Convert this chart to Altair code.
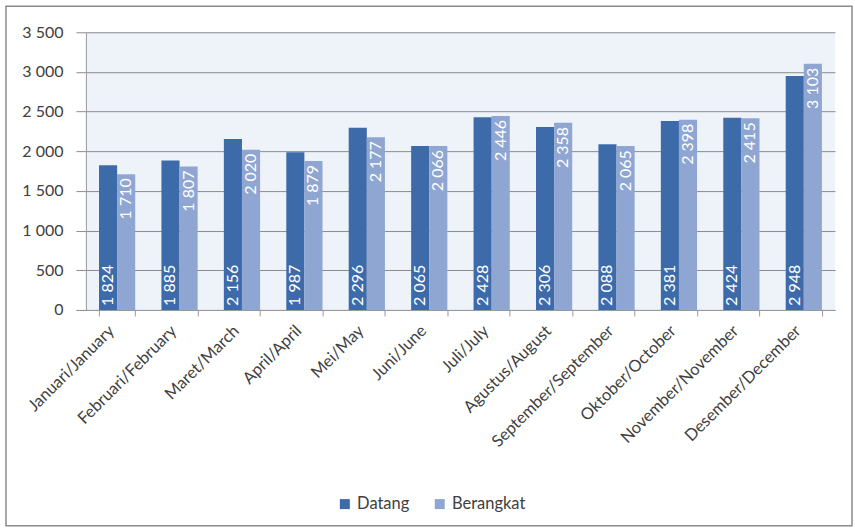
import altair as alt
import pandas as pd

months = ["Januari/January", "Februari/February", "Maret/March", "April/April", "Mei/May",
          "Juni/June", "Juli/July", "Agustus/August", "September/September",
          "Oktober/October", "November/November", "Desember/December"]
datang = [1824, 1885, 2156, 1987, 2296, 2065, 2428, 2306, 2088, 2381, 2424, 2948]
berangkat = [1710, 1807, 2020, 1879, 2177, 2066, 2446, 2358, 2065, 2398, 2415, 3103]
series = ["Datang", "Berangkat"]
colors = ["#3D6BAA", "#8FA6D2"]

rows = []
for m, d, b in zip(months, datang, berangkat):
    rows.append({"month": m, "series": "Datang", "value": d})
    rows.append({"month": m, "series": "Berangkat", "value": b})
df = pd.DataFrame(rows)
df["label"] = df["value"].map(lambda v: f"{v:,}".replace(",", " "))
df["zero"] = 0

FONT = "Lato"

base = alt.Chart(df)
x = alt.X("month:N", sort=months, title=None,
          scale=alt.Scale(paddingInner=0.42, paddingOuter=0.21),
          axis=alt.Axis(labelAngle=-45, labelAlign="right", labelBaseline="middle",
                        tickBand="extent", ticks=True, tickSize=6, tickColor="#9a9a9a",
                        domainColor="#9a9a9a", labelFontSize=16.5, labelColor="#404040",
                        labelPadding=12, labelOffset=-6, labelFont=FONT,
                        labelOverlap=False))
xo = alt.XOffset("series:N", sort=series)

yscale = alt.Scale(domain=[0, 3500], nice=False)
yaxis = alt.Axis(values=list(range(0, 3501, 500)),
                 labelExpr="replace(format(datum.value, ','), ',', ' ')",
                 grid=True, gridColor="#8c8c8c", gridWidth=1,
                 tickSize=10, tickColor="#8c8c8c", domainColor="#9a9a9a",
                 labelFontSize=16, labelColor="#404040", labelPadding=13,
                 labelFont=FONT, labelOverlap=False)


def yenc(field):
    return alt.Y(field, title=None, scale=yscale, axis=yaxis)


bars = base.mark_bar().encode(
    x=x, xOffset=xo, y=yenc("value:Q"),
    color=alt.Color("series:N", sort=series,
                    scale=alt.Scale(domain=series, range=colors),
                    legend=alt.Legend(title=None, orient="none", legendX=251, legendY=464,
                                      direction="horizontal", symbolType="square",
                                      symbolSize=100, labelFontSize=16.5,
                                      labelColor="#404040", labelFont=FONT,
                                      columnPadding=22, symbolStrokeWidth=0)),
)

lbl_d = base.transform_filter(alt.datum.series == "Datang").mark_text(
    angle=270, align="left", baseline="middle", dx=4, color="white",
    fontSize=16, font=FONT
).encode(x=x, xOffset=xo, y=yenc("zero:Q"), text="label:N")

lbl_b = base.transform_filter(alt.datum.series == "Berangkat").mark_text(
    angle=270, align="right", baseline="middle", dx=-4, color="white",
    fontSize=16, font=FONT
).encode(x=x, xOffset=xo, y=yenc("value:Q"), text="label:N")

frame = alt.Chart(pd.DataFrame({"a": [0]})).mark_rect(
    fillOpacity=0, stroke="#8a8a8a", strokeWidth=1.5
).encode(x=alt.value(-80), x2=alt.value(767), y=alt.value(-26), y2=alt.value(494))

chart = alt.layer(bars, lbl_d, lbl_b, frame).properties(
    width=750, height=278,
    padding={"left": 5, "top": 5, "right": 2, "bottom": 3},
    background="white",
).configure_view(fill="#EEF2F9", stroke=None)

chart.save("out.html", embed_options={"renderer": "svg", "actions": False})
